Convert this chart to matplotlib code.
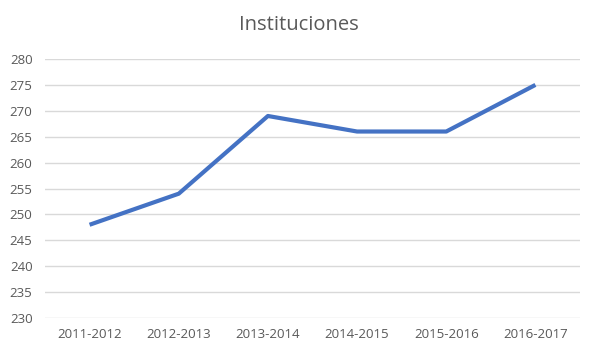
import matplotlib.pyplot as plt

# Data
periodos = ["2011-2012", "2012-2013", "2013-2014", "2014-2015", "2015-2016", "2016-2017"]
instituciones = [248, 254, 269, 266, 266, 275]
y_ticks = [230, 235, 240, 245, 250, 255, 260, 265, 270, 275, 280]

plt.rcParams["font.family"] = ["Open Sans", "DejaVu Sans"]

fig = plt.figure(figsize=(5.97, 3.54), dpi=100)
ax = fig.add_axes([45 / 597, 1 - 318 / 354, 535 / 597, (318 - 59) / 354])

x = range(len(periodos))
ax.plot(x, instituciones, color="#4472C4", linewidth=3, solid_capstyle="butt")

ax.set_xlim(-0.5, len(periodos) - 0.5)
ax.set_ylim(230, 280)
ax.set_yticks(y_ticks)
ax.set_xticks(list(x))
ax.set_xticklabels(periodos)

ax.grid(axis="y", color="#D9D9D9", linewidth=1)
ax.set_axisbelow(True)
for s in ax.spines.values():
    s.set_visible(False)
ax.tick_params(length=0, colors="#595959", labelsize=9.5)
ax.tick_params(axis="x", pad=7)
ax.tick_params(axis="y", pad=9)

fig.text(0.5, 1 - 25 / 354, "Instituciones", ha="center", va="center",
         fontsize=14.5, color="#595959")

fig.savefig("out.png", dpi=100, facecolor="white")
